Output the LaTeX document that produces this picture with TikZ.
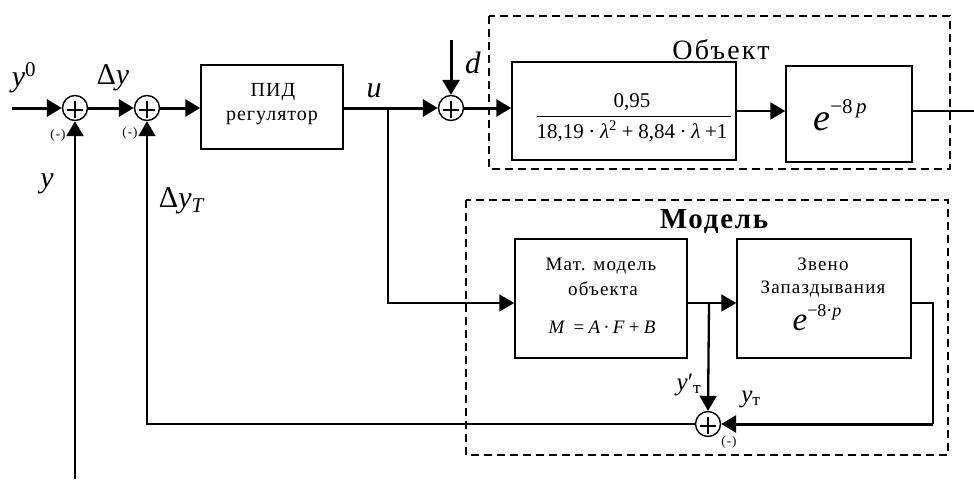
\documentclass[tikz,border=0pt]{standalone}
\usepackage{fontspec}
\setmainfont{Liberation Serif}
\usetikzlibrary{arrows.meta}
\newcommand{\fs}[1]{\fontsize{#1}{#1}\selectfont}
\newcommand{\lsp}[1]{\addfontfeature{LetterSpace=#1}}
\begin{document}
\begin{tikzpicture}[x=1pt,y=-1pt,
  >={Triangle[length=15pt,width=17pt]},
  blk/.style={draw,line width=1.5pt,inner sep=0pt},
  sumj/.style={draw,circle,line width=1.4pt,minimum size=25pt,inner sep=0pt,
    path picture={\draw[line width=1.8pt] ([yshift=-2pt]path picture bounding box.center) +(-8pt,0) -- +(8pt,0) +(0,-8pt) -- +(0,9pt);}},
  thk/.style={line width=3pt},
  med/.style={line width=2.3pt},
  thn/.style={line width=1.6pt},
  lbl/.style={inner sep=0pt,anchor=base},
  odash/.style={line width=2.8pt,dash pattern=on 8pt off 5pt},
  mdash/.style={line width=2.2pt,dash pattern=on 8pt off 5pt},
  minus/.style={inner sep=0pt,font=\fs{13}\lsp{8}}]
\useasboundingbox (0,0) rectangle (974,479);

% dashed groups
\draw[odash] (489,16) rectangle (950,169);
\draw[mdash] (466,200) rectangle (948,455);

% summing junctions
\node[sumj] (s1) at (75,108) {};
\node[sumj] (s2) at (147,108) {};
\node[sumj] (s3) at (451,108) {};
\node[sumj] (s4) at (708,424) {};

% blocks
\node[blk,minimum width=142pt,minimum height=84pt] (pid) at (272,107) {};
\node[lbl,font=\fs{20}\lsp{5}] (pidt1) at (273,96) {ПИД};
\node[lbl,font=\fs{20}\lsp{5}] (pidt2) at (272,120) {регулятор};

\node[blk,minimum width=224pt,minimum height=98pt] (frac) at (624,111) {};
\node[lbl,font=\fs{21}] (num) at (632,107) {0,95};
\node[lbl,font=\fs{21}] (den) at (632,138) {18,19\:·\:\textit{λ}\textsuperscript{2}\:+\:8,84\:·\:\textit{λ}\:+1};
\draw[line width=1pt] (537,116) -- (731,116);

\node[blk,minimum width=126pt,minimum height=96pt] (del) at (849,114) {};
\node[lbl] (delt) at (840,130) {\fs{38}\textit{e}\raisebox{17pt}{\fs{21}−8\,\textit{p}}};

\node[lbl,font=\fs{28}\lsp{8}] (objt) at (721,59) {Объект};
\node[lbl,font=\fs{29}\bfseries\lsp{6}] (modt) at (714,228) {Модель};

\node[blk,minimum width=172pt,minimum height=119pt] (mat) at (601,298.5) {};
\node[lbl,font=\fs{19}\lsp{6}] (matt1) at (601,270) {Мат. модель};
\node[lbl,font=\fs{19}\lsp{6}] (matt2) at (603,295) {объекта};
\node[lbl,font=\fs{19}] (matt3) at (602,333) {\textit{M}\;\,=\:\textit{A}\,·\,\textit{F}\:+\:\textit{B}};

\node[blk,minimum width=174pt,minimum height=119pt] (zv) at (824,298.5) {};
\node[lbl,font=\fs{19}\lsp{6}] (zvt1) at (823,270) {Звено};
\node[lbl,font=\fs{19}\lsp{6}] (zvt2) at (823,293) {Запаздывания};
\node[lbl] (zvt3) at (817,330) {\fs{33}\textit{e}\raisebox{14pt}{\fs{18}−8·\textit{p}}};

% coordinates
\coordinate (in) at (12,108);
\coordinate (dtop) at (451,40);
\coordinate (bu) at (388,108);
\coordinate (mi) at (0,303);
\coordinate (b2) at (709,303);
\coordinate (c2) at (933,424);
\coordinate (out) at (974,111);
\coordinate (yb) at (75,479);

% connectors
\draw[thk,->] (in) -- (s1);
\draw[thk,->] (s1) -- (s2);
\draw[thk,->] (s2) -- (pid.west |- s2);
\draw[thk,->] (pid.east |- s3) -- (s3);
\draw[thk,->] (dtop) -- (s3.north);
\draw[thk,->] (s3) -- (frac.west |- s3);
\draw[med,->] (frac.east) -- (frac.east -| del.west);
\draw[thn] (del.east |- out) -- (out);
\draw[thn,->] (bu) |- (mat.west |- mi);
\draw[med,->] (mat.east |- mi) -- (zv.west |- mi);
\draw[med,->] (b2) -- (s4.north);
\draw[thn] (zv.east |- mi) -| (c2);
\draw[thk,->] (c2) -- (s4.east);
\draw[thn,->] (s4.west) -| (s2.south);
\draw[med,->] (yb) -- (s1.south);

% labels
\node[lbl,font=\fs{30}] (ly0) at (24,86) {\textit{y}\textsuperscript{0}};
\node[lbl,font=\fs{30}] (ldy) at (113,84) {Δ\textit{y}};
\node[lbl,font=\fs{30}] (lu) at (374,97) {\textit{u}};
\node[lbl,font=\fs{31}] (ld) at (473,73) {\textit{d}};
\node[lbl,font=\fs{30}] (ly) at (47,187) {\textit{y}};
\node[lbl,font=\fs{30}] (ldyt) at (182,207) {Δ\textit{y}\textsubscript{\textit{T}}};
\node[lbl,font=\fs{25}] (lyp) at (689,390) {\textit{y}′\textsubscript{т}\hspace{-6pt}};
\node[lbl,font=\fs{25}] (lyt) at (751,402) {\textit{y}\textsubscript{т}};
\node[minus] (m1) at (58,135) {(-)};
\node[minus] (m2) at (130,133) {(-)};
\node[minus] (m4) at (729,442) {(-)};
\end{tikzpicture}
\end{document}
